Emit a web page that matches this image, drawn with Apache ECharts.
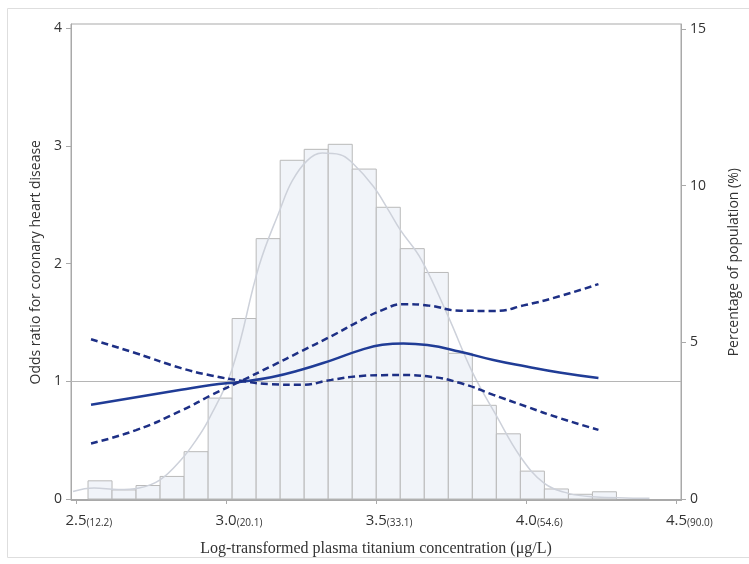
<!DOCTYPE html>
<html>
<head>
<meta charset="utf-8">
<script src="https://cdn.jsdelivr.net/npm/echarts@6/dist/echarts.min.js"></script>
<style>
html,body{margin:0;padding:0;background:#fff;}
#chart{width:749px;height:564px;}
</style>
</head>
<body>
<div id="chart"></div>
<script>
// ---- Data ----
const xTicks = [2.5, 3.0, 3.5, 4.0, 4.5];
const xTickSub = ['12.2', '20.1', '33.1', '54.6', '90.0'];
const orTicks = [0, 1, 2, 3, 4];
const pctTicks = [0, 5, 10, 15];

// histogram bins (start of each bin, width 0.08) and percentage of population
const binStarts = [2.54, 2.62, 2.70, 2.78, 2.86, 2.94, 3.02, 3.10, 3.18, 3.26, 3.34,
                   3.42, 3.50, 3.58, 3.66, 3.74, 3.82, 3.90, 3.98, 4.06, 4.14, 4.22];
const binWidth = 0.08;
const binPct = [0.58, 0.29, 0.43, 0.72, 1.51, 3.22, 5.76, 8.31, 10.81, 11.16, 11.32,
                10.53, 9.31, 7.99, 7.23, 4.65, 2.99, 2.08, 0.89, 0.32, 0.15, 0.23];

// kernel density curve (percentage)
const densX = [2.49, 2.56, 2.64, 2.71, 2.78, 2.85, 2.90, 2.94, 3.02, 3.11, 3.18, 3.22,
               3.27, 3.32, 3.38, 3.42, 3.49, 3.54, 3.58, 3.65, 3.74, 3.82, 3.90, 3.98,
               4.06, 4.14, 4.22, 4.41];
const densY = [0.24, 0.35, 0.30, 0.35, 0.61, 1.25, 1.88, 2.50, 4.15, 7.45, 9.25, 10.15,
               10.80, 11.04, 10.99, 10.73, 9.98, 9.23, 8.59, 7.64, 5.82, 4.05, 2.66, 1.35,
               0.50, 0.18, 0.07, 0.02];

// odds ratio spline and confidence limits
const orX = [2.55, 2.70, 2.85, 2.95, 3.05, 3.15, 3.25, 3.35, 3.45, 3.52, 3.59, 3.67,
             3.78, 3.89, 4.00, 4.11, 4.24];
const orEst = [0.80, 0.865, 0.928, 0.968, 0.997, 1.035, 1.098, 1.178, 1.267, 1.31, 1.322,
               1.308, 1.251, 1.181, 1.125, 1.074, 1.027];
const ciA = [1.357, 1.238, 1.112, 1.050, 1.005, 0.975, 0.970, 1.012, 1.045, 1.052, 1.053,
             1.042, 0.985, 0.885, 0.785, 0.688, 0.587];
const ciB = [0.472, 0.585, 0.750, 0.881, 1.003, 1.128, 1.255, 1.383, 1.520, 1.605, 1.655,
             1.645, 1.600, 1.598, 1.650, 1.722, 1.826];

// ---- Build ----
const zip = (xs, ys) => xs.map((x, i) => [x, ys[i]]);
const histData = binStarts.map((s, i) => [s, s + binWidth, binPct[i]]);

const axisGray = '#a9a9a9';
const labelColor = '#333';
const sans = 'Open Sans';

const chart = echarts.init(document.getElementById('chart'), null, {renderer: 'canvas'});
chart.setOption({
  animation: false,
  backgroundColor: '#fff',
  graphic: [{
    type: 'rect', silent: true, z: -10,
    shape: {x: 7.5, y: 8.5, width: 745, height: 549},
    style: {fill: 'none', stroke: '#dedede', lineWidth: 1}
  }],
  grid: {
    left: 71, right: 68, top: 24, bottom: 63.5,
    show: true, borderColor: axisGray, borderWidth: 1, backgroundColor: 'transparent'
  },
  xAxis: {
    type: 'value', min: 2.4833, max: 4.515,
    splitLine: {show: false},
    axisLine: {show: true, lineStyle: {color: axisGray}},
    axisTick: {show: true, customValues: xTicks, length: 5, lineStyle: {color: axisGray}},
    axisLabel: {
      customValues: xTicks, margin: 10,
      formatter: function (v) {
        const i = xTicks.findIndex(t => Math.abs(t - v) < 1e-6);
        const sub = '(' + xTickSub[i] + ')';
        return '{s|' + sub + '}{a|' + v.toFixed(1) + '}{b|' + sub + '}';
      },
      rich: {
        s: {fontSize: 10, fontFamily: sans, color: 'rgba(0,0,0,0)', verticalAlign: 'bottom', lineHeight: 18},
        a: {fontSize: 15, fontFamily: sans, color: labelColor, verticalAlign: 'bottom', lineHeight: 18},
        b: {fontSize: 10, fontFamily: sans, color: labelColor, verticalAlign: 'bottom', lineHeight: 18}
      }
    },
    name: 'Log-transformed plasma titanium concentration (\u03bcg/L)',
    nameLocation: 'middle', nameGap: 40,
    nameTextStyle: {fontFamily: 'Liberation Serif', fontSize: 16, color: labelColor}
  },
  yAxis: [{
    type: 'value', min: -0.013, max: 4.036, position: 'left',
    splitLine: {show: false},
    axisLine: {show: true, lineStyle: {color: axisGray}},
    axisTick: {show: true, customValues: orTicks, length: 5, lineStyle: {color: axisGray}},
    axisLabel: {customValues: orTicks, margin: 9, fontSize: 14, fontFamily: sans, color: labelColor},
    name: 'Odds ratio for coronary heart disease',
    nameLocation: 'middle', nameGap: 27,
    nameTextStyle: {fontFamily: sans, fontSize: 14, color: labelColor}
  }, {
    type: 'value', min: -0.048, max: 15.16, position: 'right',
    splitLine: {show: false},
    axisLine: {show: true, lineStyle: {color: axisGray}},
    axisTick: {show: true, customValues: pctTicks, length: 5, lineStyle: {color: axisGray}},
    axisLabel: {customValues: pctTicks, margin: 9, fontSize: 14, fontFamily: sans, color: labelColor},
    name: 'Percentage of population (%)',
    nameLocation: 'middle', nameGap: 46, nameRotate: 90,
    nameTextStyle: {fontFamily: sans, fontSize: 14, color: labelColor}
  }],
  series: [{
    type: 'custom', yAxisIndex: 1, z: 1,
    data: histData,
    renderItem: function (params, api) {
      const p0 = api.coord([api.value(0), 0]);
      const p1 = api.coord([api.value(1), api.value(2)]);
      return {
        type: 'rect',
        shape: {x: p0[0], y: p1[1], width: p1[0] - p0[0], height: p0[1] - p1[1]},
        style: {fill: '#f1f4f9', stroke: '#b9b9b9', lineWidth: 1}
      };
    }
  }, {
    type: 'line', yAxisIndex: 1, z: 2, smooth: 0.4, symbol: 'none',
    data: zip(densX, densY),
    lineStyle: {color: '#cdd1da', width: 1.5}
  }, {
    type: 'line', yAxisIndex: 0, z: 5, smooth: 0.5, symbol: 'none',
    data: zip(orX, orEst),
    lineStyle: {color: '#203c96', width: 2.5},
    markLine: {
      silent: true, symbol: 'none', label: {show: false},
      lineStyle: {color: '#b5b5b5', width: 1, type: 'solid'},
      data: [{yAxis: 1}]
    }
  }, {
    type: 'line', yAxisIndex: 0, z: 5, smooth: 0.5, symbol: 'none',
    data: zip(orX, ciA),
    lineStyle: {color: '#1d2f85', width: 2.5, type: [7, 4]}
  }, {
    type: 'line', yAxisIndex: 0, z: 5, smooth: 0.5, symbol: 'none',
    data: zip(orX, ciB),
    lineStyle: {color: '#1d2f85', width: 2.5, type: [7, 4]}
  }]
});
</script>
</body>
</html>
